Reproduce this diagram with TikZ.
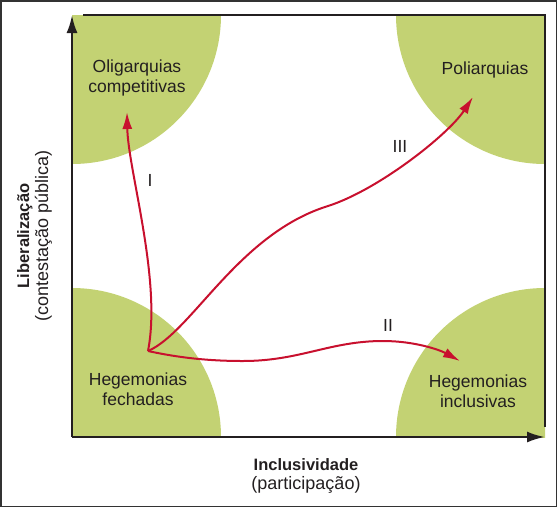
\documentclass[tikz,border=0pt]{standalone}
\usepackage{fontspec}
\setmainfont{Liberation Sans}
\usetikzlibrary{positioning}
\usetikzlibrary{arrows.meta}

\definecolor{verde}{RGB}{195,210,115}
\definecolor{vermelho}{RGB}{200,16,46}
\definecolor{tinta}{RGB}{35,31,32}

\begin{document}
\begin{tikzpicture}
    [x=1pt,y=-1pt,
     every node/.style={font=\fontsize{17.5}{20.5}\selectfont,text=tinta,align=center,inner sep=0pt}]

    \tikzstyle{eixo}   = [line width=2.5pt,color=tinta,-{Latex[length=18pt,width=11pt]}]
    \tikzstyle{borda}  = [line width=2.5pt,color=tinta]
    \tikzstyle{seta}   = [line width=2pt,color=vermelho,-{Latex[length=17pt,width=10pt]}]
    \tikzstyle{regiao} = [fill=verde]
    \tikzstyle{titulo} = [font=\fontsize{16.5}{20}\selectfont\bfseries]
    \tikzstyle{subtit} = [font=\fontsize{18}{20}\selectfont]

    \useasboundingbox (0,0) rectangle (557,507);
    \draw [line width=1.5pt,color=black!80] (0.75,0.75) rectangle (556.25,506.25);

    % as quatro regioes
    \begin{scope}
        \clip (72,15) rectangle (545,437);
        \foreach \cx/\cy in {72/15,545/15,72/437,545/437}
            \fill [regiao] (\cx,\cy) circle (149);
    \end{scope}

    \coordinate (orig) at (72,437);
    \coordinate (topo) at (72,15);
    \coordinate (fim)  at (545,437);

    \draw [eixo] (orig) -- (topo);
    \draw [eixo] (orig) -- (fim);
    \draw [borda] (83,15) -- (545,15) -- (545,427);

    \node (olig) at (137,78)  {Oligarquias\\competitivas};
    \node (poli) at (485,70)  {Poliarquias};
    \node (hfec) at (138,389) {Hegemonias\\fechadas};
    \node (hinc) at (478,391) {Hegemonias\\inclusivas};

    \coordinate (p0)   at (148,351);
    \coordinate (pI)   at (127,112);
    \coordinate (pII)  at (460,361);
    \coordinate (pIII) at (473,97);

    \draw [seta] (p0) .. controls (162,280) and (128,170) .. (pI);
    \draw [seta] (p0) .. controls (180,358) and (210,361) .. (243,361)
                      .. controls (300,361) and (330,341) .. (383,341)
                      .. controls (415,341) and (440,350) .. (pII);
    \draw [seta] (p0) .. controls (192,332) and (238,234) .. (328,206)
                      .. controls (378,190) and (448,135) .. (pIII);

    \node (rI)   at (150,180) {I};
    \node (rII)  at (388,325) {II};
    \node (rIII) at (400,146) {III};

    \node [titulo,anchor=base] (incl) at (306,470) {Inclusividade};
    \node [subtit,anchor=base] (part) at ([yshift=-19pt]incl.base) {(participação)};

    \node [titulo,rotate=90,anchor=base] (libe) at (29,236) {Liberalização};
    \node [subtit,rotate=90,anchor=base] (cont) at ([xshift=19pt]libe.base) {(contestação pública)};
  \end{tikzpicture}
\end{document}
